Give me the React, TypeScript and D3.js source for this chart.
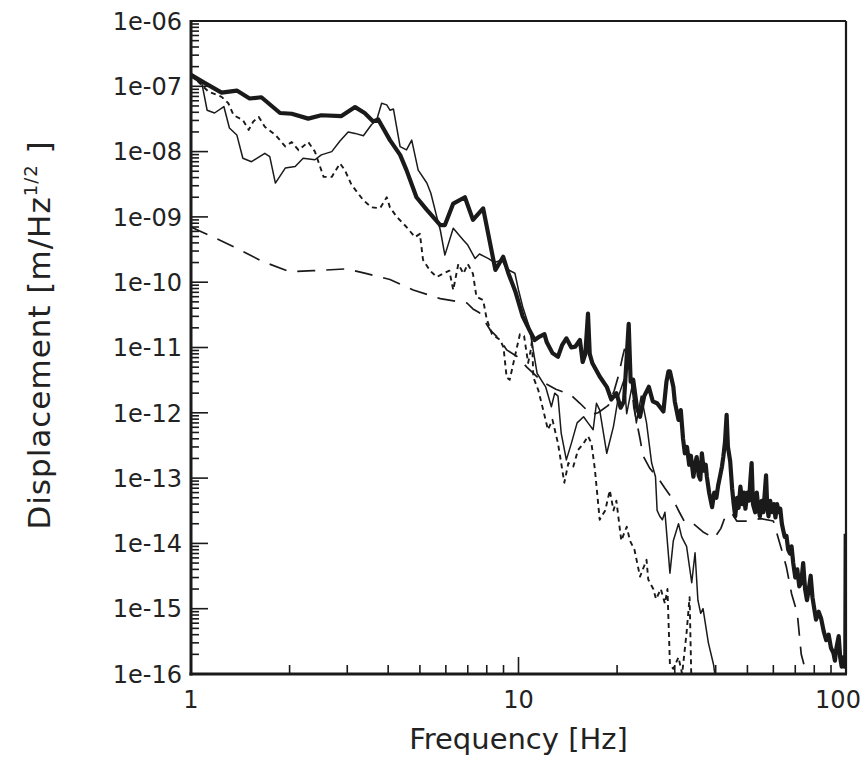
import React from 'react';
import * as d3 from 'd3';

// frequency [Hz] / displacement [m/Hz^1/2]
const thickFreq = [1.0, 1.1, 1.24, 1.38, 1.51, 1.64, 1.87, 2.03, 2.28, 2.5, 2.88, 3.17, 3.39, 3.6, 3.73, 4.05, 4.35, 4.55, 4.88, 5.25, 5.77, 5.96, 6.32, 6.86, 7.26, 7.8, 8.5, 8.98, 9.3, 9.8, 10.3, 10.8, 11.2, 11.6, 12.0, 12.2, 12.7, 13.2, 13.6, 14.0, 14.5, 14.9, 15.4, 15.7, 16.0, 16.3, 16.5, 16.8, 17.7, 18.6, 19.2, 19.9, 20.5, 21.0, 21.7, 22.0, 22.4, 23.0, 23.5, 24.2, 25.0, 25.7, 26.5, 27.0, 27.7, 28.3, 28.7, 29.0, 29.7, 30.0, 30.8, 31.3, 31.8, 32.2, 32.7, 33.2, 33.6, 34.2, 34.6, 35.0, 35.5, 35.9, 36.3, 36.8, 37.3, 37.6, 38.2, 39.0, 39.6, 40.2, 40.7, 41.3, 41.8, 42.2, 42.7, 43.2, 43.6, 44.3, 44.9, 45.4, 45.9, 46.5, 47.0, 47.6, 48.2, 48.8, 49.3, 50.0, 50.6, 51.1, 51.5, 52.0, 52.8, 53.4, 54.0, 54.6, 55.3, 55.9, 56.5, 57.0, 57.5, 58.0, 58.7, 59.4, 60.2, 60.9, 61.6, 62.3, 63.0, 63.7, 64.3, 65.0, 65.8, 66.6, 67.4, 68.2, 69.0, 70.0, 71.0, 72.0, 73.0, 74.0, 75.0, 76.0, 77.0, 78.0, 79.0, 80.0, 81.0, 82.5, 84.0, 85.5, 87.0, 88.5, 90.0, 91.5, 92.5, 93.5, 95.0, 96.0, 97.0, 98.0, 99.0, 99.5, 99.8];
const thickVal = [1.5e-7, 1.13e-7, 8.0e-8, 8.6e-8, 6.5e-8, 6.8e-8, 3.9e-8, 3.8e-8, 3.2e-8, 3.6e-8, 3.5e-8, 4.8e-8, 3.9e-8, 2.9e-8, 3.1e-8, 1.5e-8, 8.9e-9, 5.2e-9, 2.0e-9, 1.28e-9, 7.5e-10, 7.5e-10, 1.6e-9, 2.0e-9, 9e-10, 1.35e-9, 1.54e-10, 2.45e-10, 1.4e-10, 7e-11, 3e-11, 1.85e-11, 1.3e-11, 1.47e-11, 1.6e-11, 1.2e-11, 8.2e-12, 7.2e-12, 1.1e-11, 1.38e-11, 1.0e-11, 1.03e-11, 1.3e-11, 6e-12, 8e-12, 3.3e-11, 8e-12, 5.8e-12, 3.6e-12, 2.5e-12, 1.6e-12, 2.0e-12, 1.2e-12, 1.5e-12, 2.3e-11, 3e-12, 3.2e-12, 1.2e-12, 8.7e-13, 1.8e-12, 2.5e-12, 1.5e-12, 1.4e-12, 1.24e-12, 1.05e-12, 3e-12, 4.3e-12, 4.3e-12, 2.5e-12, 1.5e-12, 7.8e-13, 1.1e-12, 4e-13, 2.4e-13, 3e-13, 1.6e-13, 2.2e-13, 1.05e-13, 1.6e-13, 2.1e-13, 1.1e-13, 9.5e-14, 2.4e-13, 1.3e-13, 1.6e-13, 1.05e-13, 6e-14, 3.6e-14, 6e-14, 5e-14, 7.7e-14, 1.1e-13, 1.5e-13, 2.1e-13, 3.5e-13, 9.3e-13, 3e-13, 1.8e-13, 7e-14, 4e-14, 2.6e-14, 5e-14, 3.5e-14, 7.4e-14, 4e-14, 6e-14, 3.4e-14, 6e-14, 4.5e-14, 1e-13, 1.7e-13, 4e-14, 3e-14, 6e-14, 3.5e-14, 2.6e-14, 4.5e-14, 3e-14, 6e-14, 1.1e-13, 3.5e-14, 2.6e-14, 4.5e-14, 3e-14, 4e-14, 2.5e-14, 4e-14, 3e-14, 3.4e-14, 2e-14, 1.6e-14, 1.26e-14, 1.3e-14, 8e-15, 7e-15, 9e-15, 5e-15, 3e-15, 4e-15, 2.2e-15, 2.5e-15, 5e-15, 2e-15, 1.35e-15, 2e-15, 3.2e-15, 1.5e-15, 1e-15, 6.8e-16, 9e-16, 7e-16, 4.5e-16, 3.3e-16, 4e-16, 2.5e-16, 2.1e-16, 1.6e-16, 2.5e-16, 3.8e-16, 1.8e-16, 1.3e-16, 1.8e-16, 1.3e-16, 1.6e-16, 1.4e-14];

const thinFreq = [1.0, 1.08, 1.12, 1.18, 1.26, 1.31, 1.38, 1.44, 1.53, 1.68, 1.74, 1.81, 1.94, 2.08, 2.2, 2.39, 2.5, 2.69, 2.85, 3.02, 3.17, 3.36, 3.56, 3.69, 3.82, 3.96, 4.05, 4.15, 4.35, 4.55, 4.72, 4.94, 5.25, 5.4, 5.63, 5.77, 5.96, 6.32, 6.79, 7.0, 7.37, 7.6, 8.1, 8.45, 8.9, 9.2, 9.75, 10.0, 10.3, 10.8, 11.4, 12.1, 12.6, 12.9, 13.2, 13.5, 14.0, 14.5, 15.1, 15.8, 16.3, 16.9, 17.3, 17.7, 18.6, 19.5, 20.2, 21.0, 21.4, 22.2, 22.9, 23.7, 24.6, 25.5, 26.2, 26.5, 27.0, 27.5, 28.0, 29.0, 29.7, 30.8, 31.5, 32.6, 33.8, 34.6, 35.3, 36.0, 36.6, 38.0, 39.4, 40.0];
const thinVal = [1.4e-7, 1.1e-7, 4.3e-8, 3.9e-8, 4.9e-8, 2.3e-8, 1.8e-8, 7.9e-9, 7.0e-9, 9.4e-9, 8.4e-9, 3.3e-9, 5.6e-9, 5.9e-9, 7.9e-9, 7.5e-9, 8.9e-9, 1.0e-8, 1.45e-8, 2.0e-8, 1.9e-8, 1.75e-8, 2.6e-8, 3.05e-8, 5.5e-8, 5.2e-8, 4.3e-8, 4.5e-8, 1.19e-8, 1.06e-8, 1.5e-8, 5.2e-9, 3.3e-9, 2.3e-9, 1.0e-9, 6.3e-10, 2.6e-10, 6.7e-10, 4.4e-10, 3.7e-10, 2.3e-10, 2.7e-10, 2.3e-10, 2.0e-10, 2.2e-10, 1.6e-10, 1.37e-10, 7.6e-11, 4.2e-11, 2.0e-11, 4e-12, 2.5e-12, 1.24e-12, 2.0e-12, 1.8e-12, 4.9e-13, 1.9e-13, 3.4e-13, 7e-13, 8.7e-13, 7e-13, 5.5e-13, 1.4e-12, 1.1e-12, 2.4e-13, 6.2e-13, 1.8e-12, 3.2e-12, 9.7e-13, 2.5e-12, 7e-13, 1.8e-12, 7e-13, 1.7e-13, 1.05e-13, 3.2e-14, 2.6e-14, 2.3e-14, 3e-14, 3.5e-15, 1.1e-14, 2e-14, 1.26e-14, 9e-15, 2.5e-15, 7.2e-15, 1.35e-15, 8.5e-16, 1e-15, 3e-16, 1.4e-16, 8e-17];

const dottedFreq = [1.0, 1.13, 1.24, 1.3, 1.35, 1.44, 1.5, 1.55, 1.61, 1.68, 1.81, 1.94, 2.03, 2.13, 2.28, 2.39, 2.54, 2.69, 2.85, 2.95, 3.09, 3.36, 3.56, 3.78, 3.96, 4.05, 4.25, 4.55, 4.83, 5.0, 5.11, 5.37, 5.63, 5.96, 6.15, 6.32, 6.55, 6.79, 7.0, 7.26, 7.44, 7.8, 8.0, 8.3, 8.8, 9.0, 9.2, 9.4, 9.75, 10.1, 10.4, 10.7, 10.9, 11.0, 11.1, 11.5, 11.9, 12.3, 12.7, 13.2, 13.5, 13.8, 14.2, 14.7, 15.2, 15.8, 16.3, 16.7, 17.1, 17.7, 18.4, 19.0, 19.5, 19.9, 20.6, 21.4, 21.9, 22.6, 23.5, 24.6, 24.9, 25.8, 26.3, 27.2, 28.0, 28.5, 29.0, 29.7, 30.8, 31.6, 32.6, 33.3, 33.7];
const dottedVal = [1.5e-7, 8.3e-8, 6.9e-8, 5.5e-8, 3.6e-8, 3.05e-8, 2.15e-8, 2.9e-8, 3.4e-8, 2.4e-8, 1.8e-8, 1.2e-8, 1.4e-8, 1.05e-8, 1.4e-8, 1.0e-8, 4.1e-9, 4.1e-9, 6.6e-9, 5.2e-9, 3.1e-9, 1.8e-9, 1.4e-9, 1.36e-9, 2.0e-9, 1.4e-9, 1.0e-9, 7e-10, 4.9e-10, 5.5e-10, 2.2e-10, 1.5e-10, 1.2e-10, 1.4e-10, 1.5e-10, 7.6e-11, 1.9e-10, 1.35e-10, 1.9e-10, 1.35e-10, 6e-11, 5.3e-11, 2.7e-11, 1.6e-11, 1.3e-11, 1.0e-11, 3.5e-12, 3.2e-12, 7.3e-12, 1.6e-11, 1.5e-11, 5.8e-12, 9.2e-12, 1.3e-11, 3.5e-12, 2.2e-12, 1.1e-12, 5.5e-13, 7.8e-13, 3.4e-13, 1.7e-13, 8.5e-14, 1.7e-13, 1.5e-13, 2.7e-13, 3.4e-13, 4.4e-13, 3.4e-13, 1.4e-13, 2.3e-14, 3.2e-14, 6.5e-14, 3.2e-14, 4.5e-14, 1.1e-14, 1.8e-14, 1.1e-14, 8e-15, 3.1e-15, 5.6e-15, 2.8e-15, 2e-15, 1.4e-15, 2e-15, 1.2e-15, 2e-15, 1.4e-16, 1.2e-16, 1.8e-16, 1.0e-16, 4.3e-16, 1.5e-15, 9e-17];

const dashedFreq = [1.0, 1.17, 1.38, 1.66, 2.0, 2.36, 2.99, 3.44, 4.05, 4.77, 5.77, 6.96, 7.26, 7.6, 8.2, 8.8, 9.2, 9.9, 10.6, 11.8, 13.0, 14.4, 15.4, 16.7, 17.5, 18.8, 19.6, 20.2, 20.8, 21.4, 21.9, 22.5, 23.5, 24.0, 25.2, 26.7, 28.0, 29.7, 31.0, 32.2, 34.2, 36.6, 39.6, 41.5, 42.8, 44.8, 46.4, 50.0, 55.0, 60.0, 63.6, 65.8, 68.2, 71.0, 73.0, 75.0, 76.5];
const dashedVal = [7e-10, 4.9e-10, 3.3e-10, 2.06e-10, 1.45e-10, 1.5e-10, 1.6e-10, 1.35e-10, 1.1e-10, 7.6e-11, 5.6e-11, 4.8e-11, 3.9e-11, 3.4e-11, 1.85e-11, 1.3e-11, 9.2e-12, 7.3e-12, 5e-12, 3e-12, 2.3e-12, 1.9e-12, 1.4e-12, 9.4e-13, 1e-12, 1.3e-12, 2.2e-12, 3.7e-12, 7.3e-12, 1.3e-11, 5e-12, 1.2e-12, 4e-13, 2.2e-13, 1.4e-13, 1e-13, 7e-14, 4.6e-14, 3e-14, 2.1e-14, 2e-14, 1.5e-14, 1.2e-14, 1.7e-14, 2.6e-14, 2.9e-14, 2.2e-14, 2.2e-14, 2.4e-14, 2.2e-14, 8e-15, 4.3e-15, 1.7e-15, 8.5e-16, 2e-16, 1.2e-16, 8e-17];

const yTickValues = [1e-6, 1e-7, 1e-8, 1e-9, 1e-10, 1e-11, 1e-12, 1e-13, 1e-14, 1e-15, 1e-16];
const yTickLabels = ['1e-06', '1e-07', '1e-08', '1e-09', '1e-10', '1e-11', '1e-12', '1e-13', '1e-14', '1e-15', '1e-16'];
const xTickValues = [1, 10, 100];
const xTickLabels = ['1', '10', '100'];

const W = 867, H = 763;
const left = 191, right = 846, top = 21, bottom = 674;
const font = '"DejaVu Sans", sans-serif';

const App = () => {
  const x = d3.scaleLog().domain([1, 100]).range([left, right]);
  const y = d3.scaleLog().domain([1e-16, 1e-6]).range([bottom, top]);

  const line = d3.line<[number, number]>()
    .x(d => x(d[0]))
    .y(d => y(d[1]));

  const path = (fs: number[], vs: number[]) => line(fs.map((f, i) => [f, vs[i]] as [number, number])) || '';

  // minor ticks inside each decade
  const yMinor: number[] = [];
  for (let e = -16; e < -6; e++) for (let k = 2; k <= 9; k++) yMinor.push(k * Math.pow(10, e));
  const xMinor: number[] = [];
  for (let e = 0; e < 2; e++) for (let k = 2; k <= 9; k++) xMinor.push(k * Math.pow(10, e));

  return (
    <svg width={W} height={H} style={{ position: 'absolute', left: 0, top: 0, background: '#fff' }}>
      <defs>
        <clipPath id="plot">
          <rect x={left} y={top} width={right - left} height={bottom - top} />
        </clipPath>
      </defs>

      <g clipPath="url(#plot)" fill="none" stroke="#1a1a1a" strokeLinejoin="round">
        <path d={path(dashedFreq, dashedVal)} strokeWidth={1.7} strokeDasharray="18,11" />
        <path d={path(dottedFreq, dottedVal)} strokeWidth={1.9} strokeDasharray="5,4" />
        <path d={path(thinFreq, thinVal)} strokeWidth={1.5} />
        <path d={path(thickFreq, thickVal)} strokeWidth={4.2} />
      </g>

      {/* frame */}
      <line x1={left} x2={right} y1={top} y2={top} stroke="#1a1a1a" strokeWidth={2.2} />
      <line x1={right} x2={right} y1={top} y2={bottom} stroke="#1a1a1a" strokeWidth={2.2} />
      <line x1={left} x2={left} y1={top - 1} y2={bottom + 1.5} stroke="#1a1a1a" strokeWidth={3} />
      <line x1={left - 1.5} x2={right + 1} y1={bottom} y2={bottom} stroke="#1a1a1a" strokeWidth={3} />

      {/* ticks */}
      <g stroke="#1a1a1a" strokeWidth={1.6}>
        {yTickValues.map(v => (
          <line key={'ym' + v} x1={left} x2={left + 17} y1={y(v)} y2={y(v)} />
        ))}
        {yMinor.map(v => (
          <line key={'yn' + v} x1={left} x2={left + 8} y1={y(v)} y2={y(v)} />
        ))}
        {xTickValues.map(v => (
          <line key={'xm' + v} x1={x(v)} x2={x(v)} y1={bottom} y2={bottom - 17} />
        ))}
        {xMinor.map(v => (
          <line key={'xn' + v} x1={x(v)} x2={x(v)} y1={bottom} y2={bottom - 9} />
        ))}
      </g>

      <g fontFamily={font} fill="#222">
        {yTickValues.map((v, i) => (
          <text key={'yl' + v} x={182} y={y(v) + 8.7} fontSize={24} textAnchor="end">{yTickLabels[i]}</text>
        ))}
        {xTickValues.map((v, i) => (
          <text key={'xl' + v} x={i === 2 ? 838 : x(v)} y={708} fontSize={24} textAnchor="middle">{xTickLabels[i]}</text>
        ))}
        <text x={(left + right) / 2} y={749} fontSize={29} textAnchor="middle">Frequency [Hz]</text>
        <text transform="translate(50,335) rotate(-90)" fontSize={31} letterSpacing={1} textAnchor="middle">
          Displacement [m/Hz<tspan dy={-13} fontSize={18}>1/2</tspan><tspan dy={13}> ]</tspan>
        </text>
      </g>
    </svg>
  );
};

export default App;
